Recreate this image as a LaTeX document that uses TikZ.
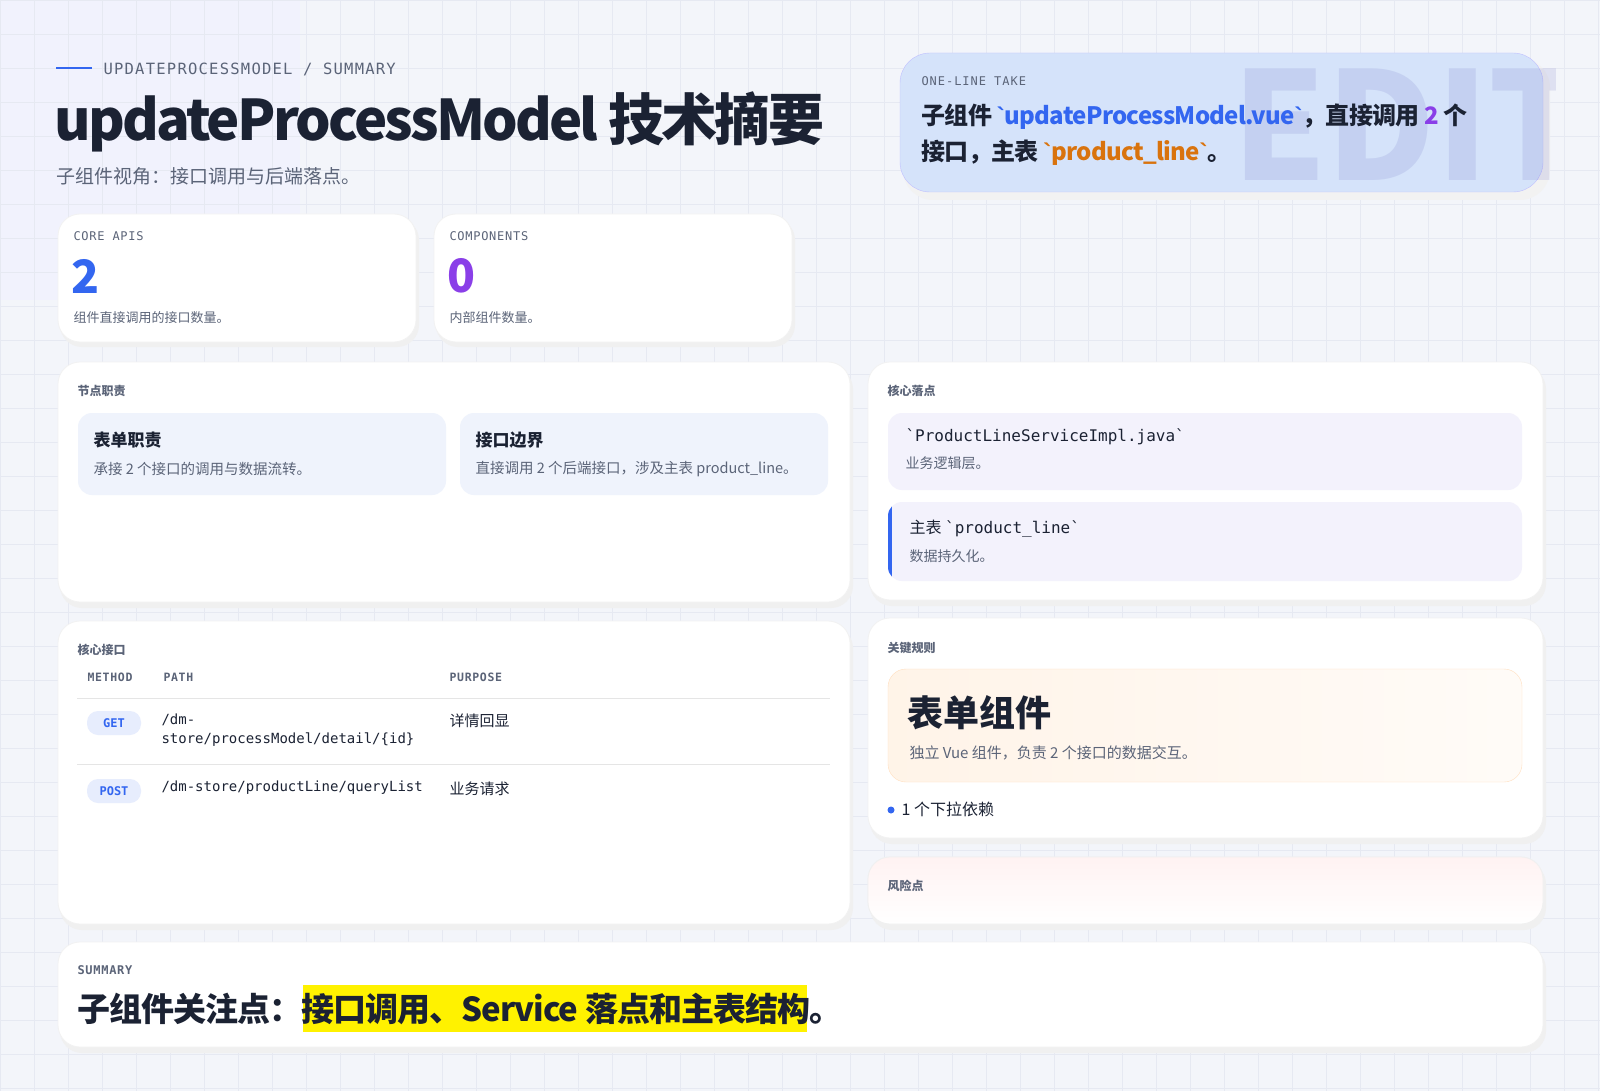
\documentclass[tikz,border=0pt]{standalone}
\usepackage{fontspec}
\setmainfont{Noto Sans CJK SC}
\setmonofont{DejaVu Sans Mono}
\newfontfamily\bqfont{Liberation Sans}
\newcommand\bq{{\bqfont\symbol{96}}}
\definecolor{ink}{HTML}{1B2233}
\definecolor{muted}{HTML}{5B6478}
\definecolor{blu}{HTML}{3366F0}
\definecolor{pur}{HTML}{8A3FE8}
\definecolor{org}{HTML}{D9730D}
\definecolor{bg}{HTML}{F3F5FA}
\definecolor{gridc}{HTML}{E6E9F2}
\definecolor{soft}{HTML}{EFF3FC}
\definecolor{softp}{HTML}{F3F2FC}
\definecolor{sky}{HTML}{D5E3FA}
\tikzset{
 panel/.style={draw=white!90!gray, fill=white, rounded corners=22pt, line width=0.8pt},
 shadowp/.style={fill=black!6, rounded corners=22pt},
 inner/.style={fill=soft, rounded corners=14pt},
 lbl/.style={anchor=west, font=\fontsize{12}{14}\selectfont\bfseries, text=muted},
 mlbl/.style={anchor=west, font=\ttfamily\fontsize{12}{14}\selectfont, text=muted},
 ttl/.style={anchor=west, font=\fontsize{17}{20}\selectfont\bfseries, text=ink},
 dsc/.style={anchor=west, font=\fontsize{14.5}{18}\selectfont, text=muted},
 pill/.style={fill=blu!12, rounded corners=11pt, minimum width=54pt, minimum height=24pt, font=\ttfamily\bfseries\fontsize{12}{14}\selectfont, text=blu},
 cell/.style={anchor=west, font=\fontsize{15}{19}\selectfont, text=ink},
 mcell/.style={anchor=west, font=\ttfamily\fontsize{14}{19}\selectfont, text=ink, align=left},
}
\begin{document}
\begin{tikzpicture}[x=1pt,y=-1pt]
\useasboundingbox (0,0) rectangle (1600,1091);
\fill[bg] (0,0) rectangle (1600,1091);
\fill[blue!6, opacity=0.6] (0,0) rectangle (300,300);
\foreach \i in {0,34,...,1600} \draw[gridc, line width=0.5pt] (\i,0) -- (\i,1091);
\foreach \j in {0,34,...,1091} \draw[gridc, line width=0.5pt] (0,\j) -- (1600,\j);
% header
\coordinate (hl1) at (56,68); \coordinate (hl2) at (92,68);
\draw[blu, line width=1.5pt] (hl1) -- (hl2);
\node[anchor=west, font=\ttfamily\fontsize{15.5}{18}\selectfont\addfontfeature{LetterSpace=8}, text=muted] (kick) at (100,69) {UPDATEPROCESSMODEL / SUMMARY};
\node[anchor=west, font=\fontsize{56}{64}\selectfont\bfseries\addfontfeature{LetterSpace=-5}, text=ink, inner sep=0pt] (title) at (54,122) {updateProcessModel 技术摘要};
\node[anchor=west, font=\fontsize{19}{22}\selectfont, text=muted, inner sep=0pt] (sub) at (56,176) {子组件视角：接口调用与后端落点。};
% one-line take
\fill[black!5, rounded corners=30pt] (903,58) rectangle (1550,200);
\draw[blue!25, fill=sky, rounded corners=30pt] (900,53) rectangle (1543,192);
\begin{scope}
\clip (1230,55) rectangle (1555,192);
\node[font=\fontsize{150}{150}\selectfont\bfseries, text=blue!40!gray, anchor=west, inner sep=0pt, opacity=0.12] (wm) at (1232,125) {EDIT};
\end{scope}
\node[mlbl, font=\ttfamily\fontsize{12}{14}\selectfont\addfontfeature{LetterSpace=8}] (olt) at (918,81) {ONE-LINE TAKE};
\node[anchor=west, font=\fontsize{24}{36}\selectfont\bfseries\addfontfeature{LetterSpace=-3}, text=ink, align=left] (olx) at (918,135) {子组件 {\color{blu}\bq updateProcessModel.vue\bq}，直接调用 {\color{pur}2} 个\\接口，主表 {\color{org}\bq product\_line\bq}。};
% stat cards
\foreach \xa/\xb in {58/416, 434/792} {\fill[shadowp] (\xa+2,218) rectangle (\xb+3,347); \draw[panel] (\xa,214) rectangle (\xb,342);}
\node[mlbl, font=\ttfamily\fontsize{12}{14}\selectfont\addfontfeature{LetterSpace=6}] (c1l) at (70,236) {CORE APIS};
\node[anchor=west, font=\fontsize{46}{50}\selectfont\bfseries, text=blu] (c1n) at (68,276) {2};
\node[anchor=west, font=\fontsize{13}{16}\selectfont, text=muted] (c1d) at (70,318) {组件直接调用的接口数量。};
\node[mlbl, font=\ttfamily\fontsize{12}{14}\selectfont\addfontfeature{LetterSpace=6}] (c2l) at (446,236) {COMPONENTS};
\node[anchor=west, font=\fontsize{46}{50}\selectfont\bfseries, text=pur] (c2n) at (444,276) {0};
\node[anchor=west, font=\fontsize{13}{16}\selectfont, text=muted] (c2d) at (446,318) {内部组件数量。};
% panels
\foreach \xa/\ya/\xb/\yb in {58/362/850/602, 868/362/1543/600, 58/621/850/924, 868/618/1543/838, 868/857/1543/924, 58/942/1543/1047}
  {\fill[shadowp] (\xa+2,\ya+5) rectangle (\xb+3,\yb+6); \draw[panel] (\xa,\ya) rectangle (\xb,\yb);}
\begin{scope}
\clip[rounded corners=22pt] (868,857) rectangle (1543,924);
\shade[top color=red!5, bottom color=white] (868,857) rectangle (1543,924);
\end{scope}
\draw[white!88!gray, rounded corners=22pt, line width=0.8pt] (868,857) rectangle (1543,924);
% 节点职责
\node[lbl] (p1) at (74,391) {节点职责};
\fill[inner] (78,413) rectangle (446,495);
\node[ttl] (t1) at (90,440) {表单职责};
\node[dsc] (d1) at (90,469) {承接 2 个接口的调用与数据流转。};
\fill[inner] (460,413) rectangle (828,495);
\node[ttl] (t2) at (472,440) {接口边界};
\node[dsc] (d2) at (472,469) {直接调用 2 个后端接口，涉及主表 product\_line。};
% 核心落点
\node[lbl] (p2) at (884,391) {核心落点};
\fill[softp, rounded corners=14pt] (888,413) rectangle (1522,490);
\node[anchor=west, font=\ttfamily\fontsize{16}{19}\selectfont, text=ink] (f1) at (902,437) {`ProductLineServiceImpl.java`};
\node[dsc, font=\fontsize{14}{17}\selectfont] (f1d) at (902,463) {业务逻辑层。};
\fill[softp, rounded corners=14pt] (888,502) rectangle (1522,581);
\begin{scope}
\clip[rounded corners=14pt] (888,502) rectangle (1522,581);
\fill[blu] (888,502) rectangle (892,581);
\end{scope}
\node[anchor=west, font=\fontsize{16}{19}\selectfont, text=ink] (f2) at (906,529) {主表 {\ttfamily `product\_line`}};
\node[dsc, font=\fontsize{14}{17}\selectfont] (f2d) at (906,556) {数据持久化。};
% 核心接口
\node[lbl] (p3) at (74,650) {核心接口};
\node[mlbl, font=\ttfamily\bfseries\fontsize{11.5}{14}\selectfont\addfontfeature{LetterSpace=6}] (h1) at (84,677) {METHOD};
\node[mlbl, font=\ttfamily\bfseries\fontsize{11.5}{14}\selectfont\addfontfeature{LetterSpace=6}] (h2) at (160,677) {PATH};
\node[mlbl, font=\ttfamily\bfseries\fontsize{11.5}{14}\selectfont\addfontfeature{LetterSpace=6}] (h3) at (446,677) {PURPOSE};
\coordinate (l1a) at (77,698); \coordinate (l1b) at (830,698);
\coordinate (l2a) at (77,764); \coordinate (l2b) at (830,764);
\draw[black!10] (l1a) -- (l1b); \draw[black!10] (l2a) -- (l2b);
\node[pill] (g) at (114,723) {GET};
\node[mcell] (gp) at (158,730) {/dm-\\store/processModel/detail/\{id\}};
\node[cell] (gu) at (446,721) {详情回显};
\node[pill] (po) at (114,791) {POST};
\node[mcell] (pp) at (158,788) {/dm-store/productLine/queryList};
\node[cell] (pu) at (446,789) {业务请求};
% 关键规则
\node[lbl] (p4) at (884,648) {关键规则};
\shade[left color=orange!9!white, right color=orange!3!white, rounded corners=18pt, draw=orange!25] (888,669) rectangle (1522,782);
\node[anchor=west, font=\fontsize{36}{40}\selectfont\bfseries, text=ink] (rt) at (904,713) {表单组件};
\node[dsc, font=\fontsize{15}{18}\selectfont] (rd) at (906,753) {独立 Vue 组件，负责 2 个接口的数据交互。};
\fill[blu] (891,810) circle (3.5pt);
\node[cell, font=\fontsize{16}{19}\selectfont] (rb) at (898,809) {1 个下拉依赖};
% 风险点
\node[lbl] (p5) at (884,886) {风险点};
% summary
\node[mlbl, font=\ttfamily\bfseries\fontsize{12}{14}\selectfont\addfontfeature{LetterSpace=6}] (sl) at (74,970) {SUMMARY};
\fill[yellow] (303,985) rectangle (807,1032);
\node[anchor=west, font=\fontsize{33}{38}\selectfont\bfseries\addfontfeature{LetterSpace=-3}, text=ink, inner sep=0pt] (st) at (77,1009) {子组件关注点：接口调用、Service 落点和主表结构。};
\end{tikzpicture}
\end{document}
